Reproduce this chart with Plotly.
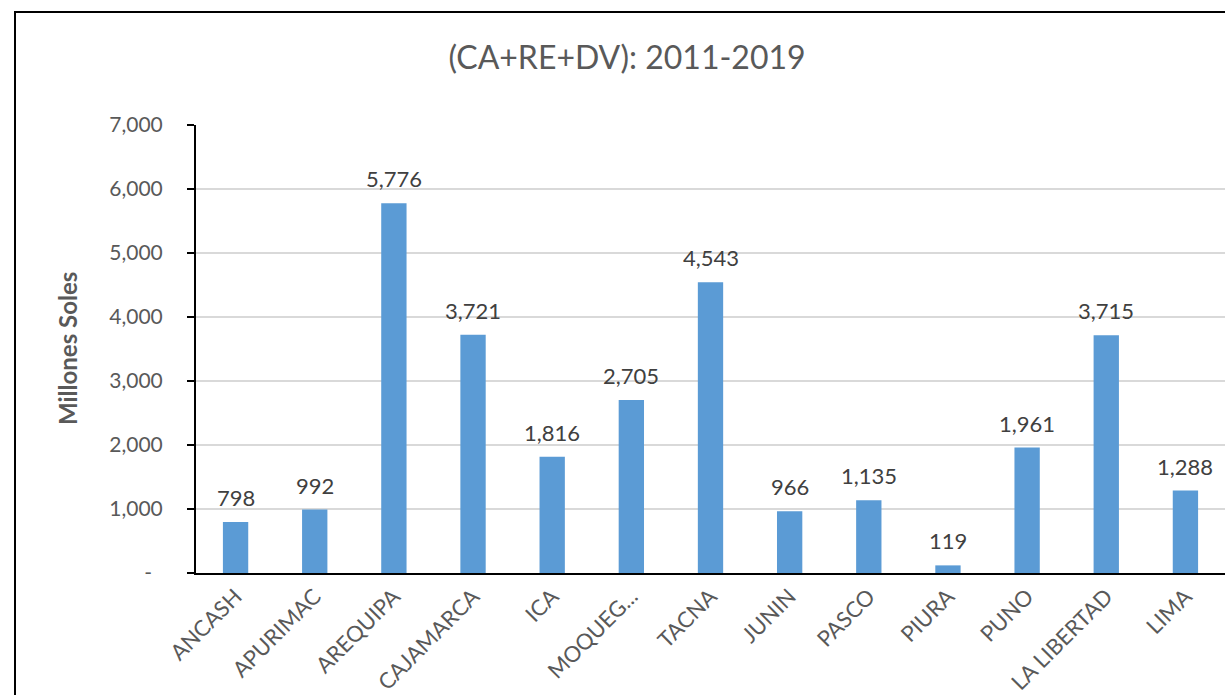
import plotly.graph_objects as go

# Regional totals (millions of soles), 2011-2019
regiones = ["ANCASH", "APURIMAC", "AREQUIPA", "CAJAMARCA", "ICA", "MOQUEG...",
            "TACNA", "JUNIN", "PASCO", "PIURA", "PUNO", "LA LIBERTAD", "LIMA"]
montos = [798, 992, 5776, 3721, 1816, 2705, 4543, 966, 1135, 119, 1961, 3715, 1288]

y_ticks = [0, 1000, 2000, 3000, 4000, 5000, 6000, 7000]
y_tick_text = ["-\u00a0\u00a0", "1,000", "2,000", "3,000", "4,000", "5,000", "6,000", "7,000"]

FONT = "Lato"
GRAY = "#595959"

W, H = 1225, 695
L, R, T, B = 196, 0, 125, 122
pw, ph = W - L - R, H - T - B

fig = go.Figure(go.Bar(
    x=regiones, y=montos,
    marker=dict(color="#5B9BD5", line=dict(width=0)),
    width=0.32,
    hoverinfo="x+y",
))

# value labels above each bar
for reg, val in zip(regiones, montos):
    fig.add_annotation(x=reg, y=val, text=f"{val:,}", showarrow=False,
                       yanchor="bottom", yshift=9,
                       font=dict(family=FONT, size=22, color="#404040"))

# y-axis title
fig.add_annotation(xref="paper", yref="paper", x=(67 - L) / pw, y=0.5,
                   text="<b>Millones Soles</b>", textangle=-90, showarrow=False,
                   xanchor="center", yanchor="middle",
                   font=dict(family=FONT, size=24, color=GRAY))

# outer chart frame
fig.add_shape(type="rect", xref="paper", yref="paper",
              x0=(15 - L) / pw, x1=1.2, y0=-0.6, y1=1 + (T - 12) / ph,
              line=dict(color="black", width=2), fillcolor="rgba(0,0,0,0)",
              layer="above")

fig.update_layout(
    width=W, height=H,
    margin=dict(l=L, r=R, t=T, b=B, pad=0),
    paper_bgcolor="white", plot_bgcolor="white",
    showlegend=False,
    title=dict(text="(CA+RE+DV): 2011-2019", x=627 / W, xanchor="center",
               y=1 - 58 / H, yanchor="middle",
               font=dict(family=FONT, size=32, color=GRAY)),
    xaxis=dict(
        type="category", showgrid=False,
        showline=True, linecolor="black", linewidth=2,
        ticks="", tickangle=-45,
        tickfont=dict(family=FONT, size=22, color=GRAY),
        range=[-0.5, len(regiones) - 0.5],
    ),
    yaxis=dict(
        range=[0, 7000], tickvals=y_ticks, ticktext=y_tick_text,
        showgrid=True, gridcolor="#D9D9D9", gridwidth=1.5,
        showline=True, linecolor="black", linewidth=2,
        ticks="outside", ticklen=7, tickwidth=2, tickcolor="black",
        ticklabelstandoff=20,
        tickfont=dict(family=FONT, size=21, color=GRAY),
        zeroline=False,
    ),
)

fig.write_html("out.html")
